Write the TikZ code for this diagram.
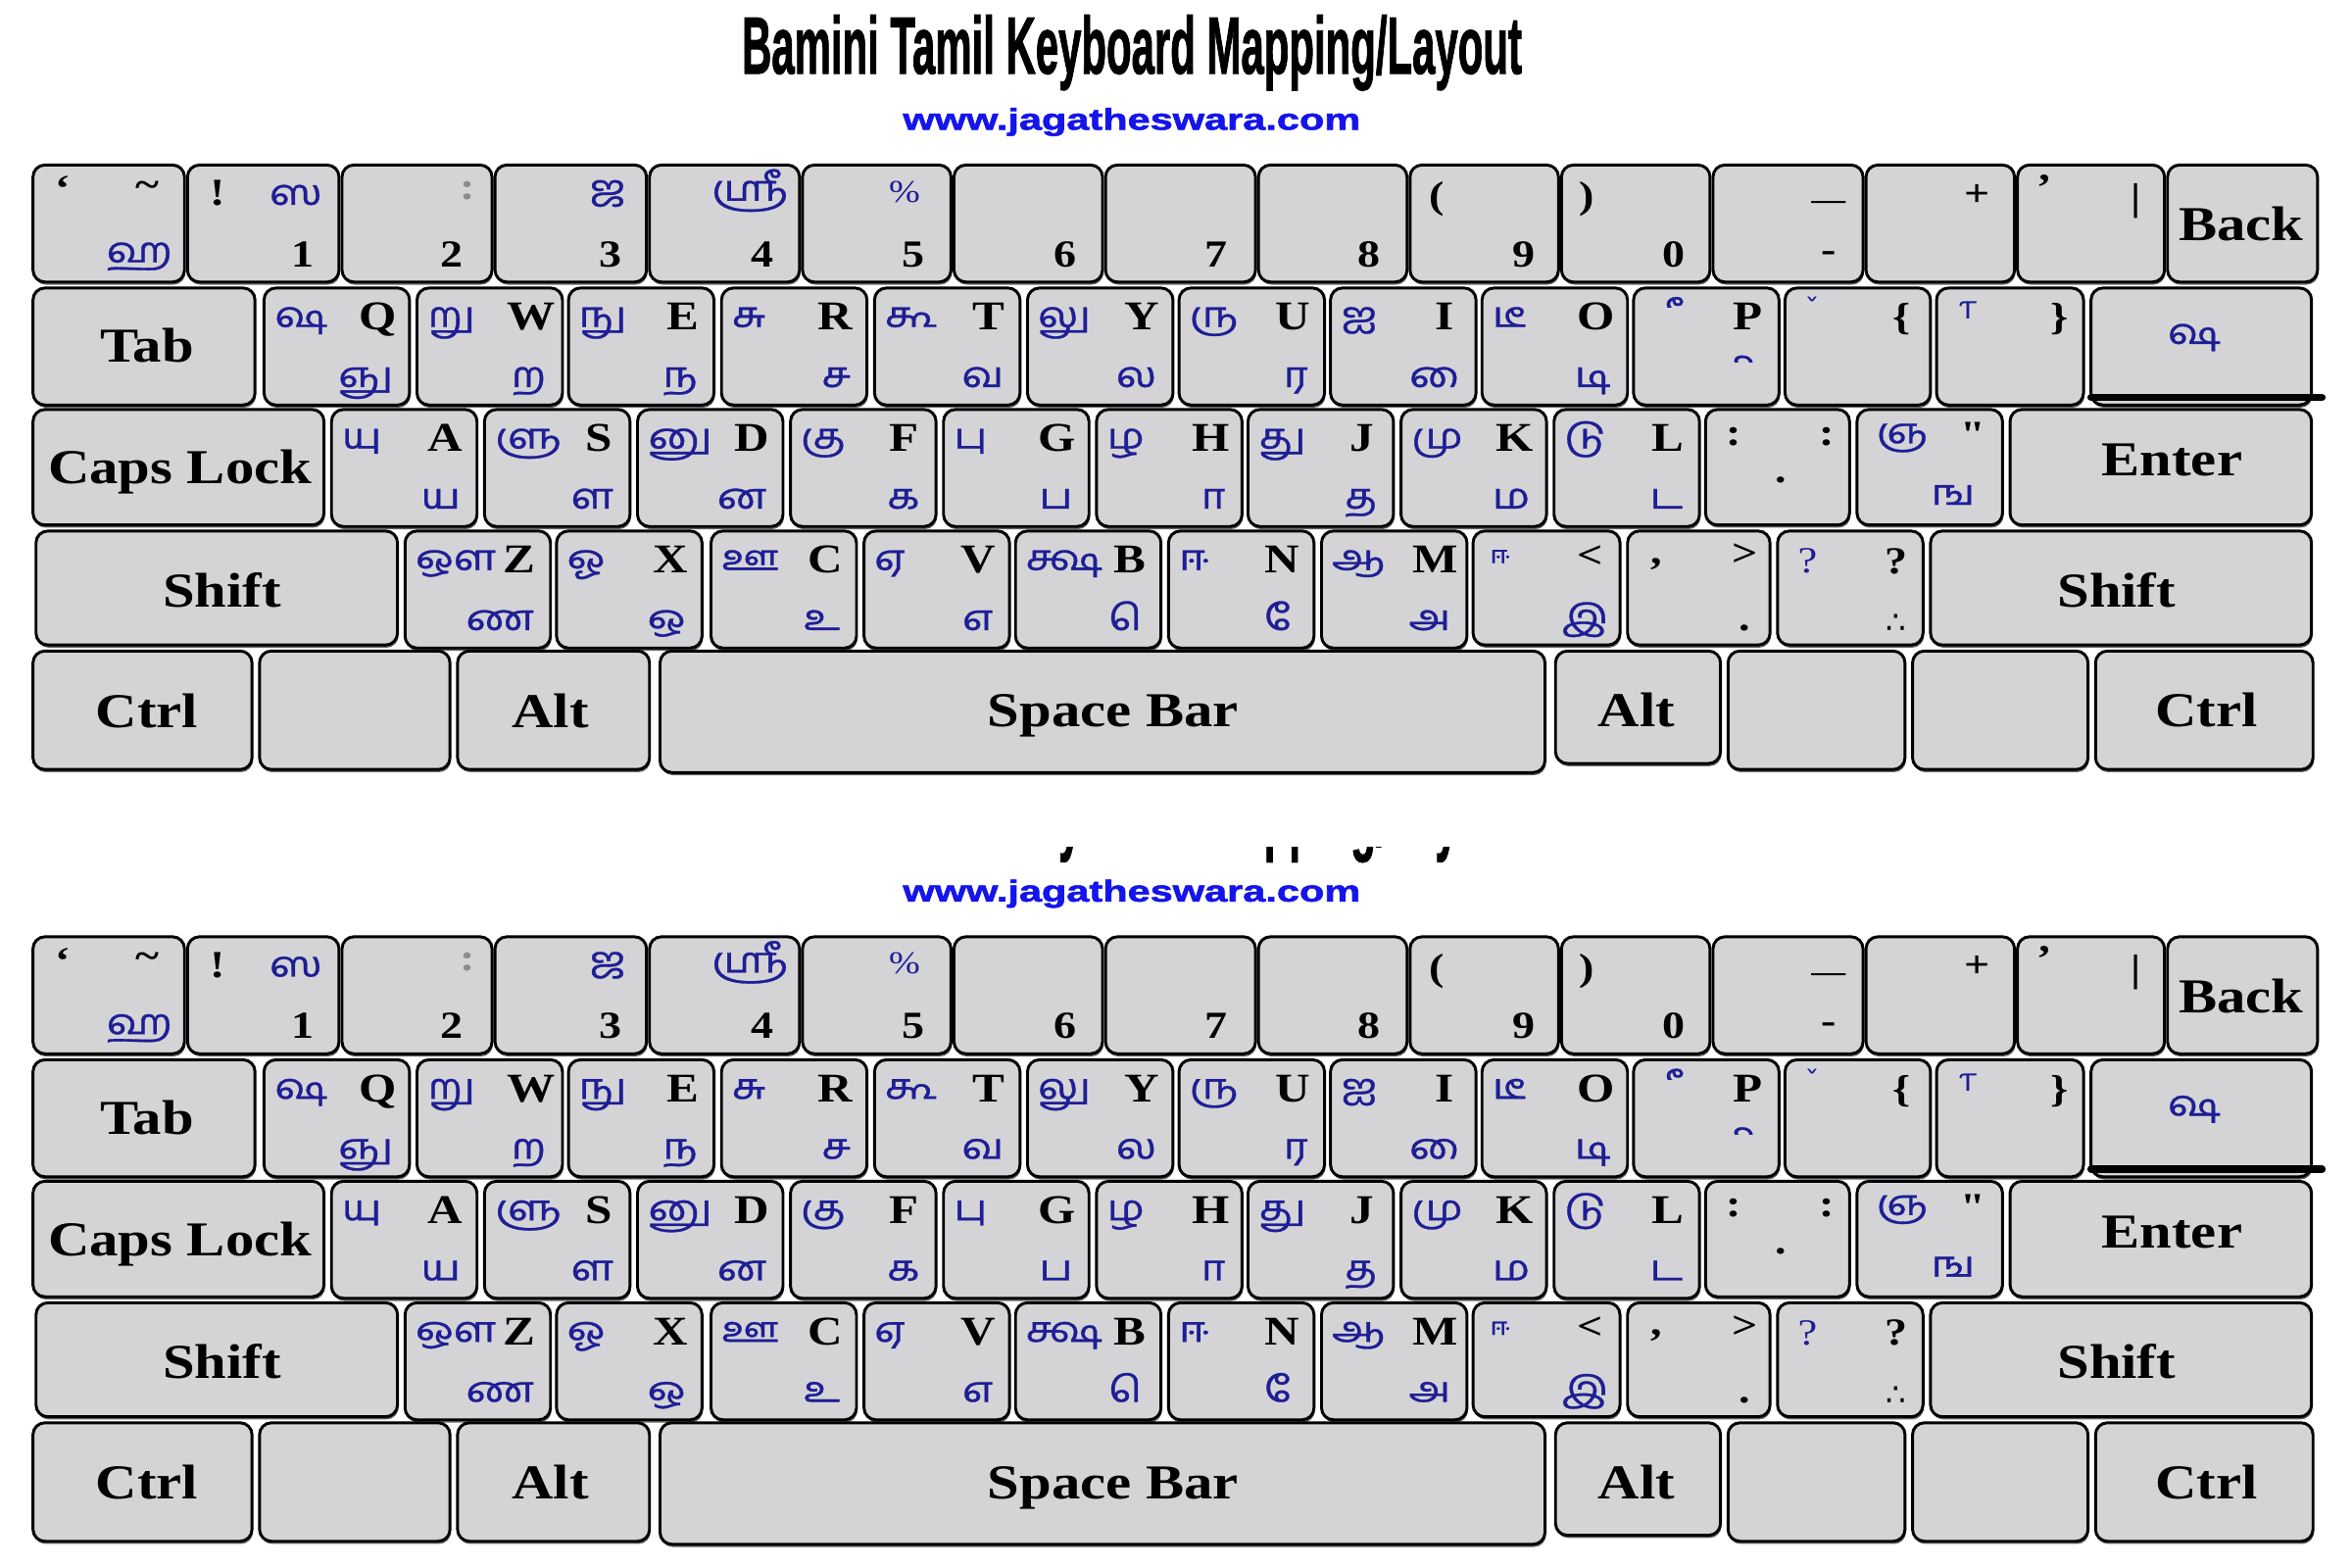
\documentclass[tikz,border=0pt]{standalone}
\usepackage{fontspec}
\usepackage{graphicx}
\setmainfont{Liberation Serif}
\newfontfamily\serifplain{Liberation Serif}
\newfontfamily\tam[Script=Tamil, FakeBold=0.8]{Hind Madurai}
\newfontfamily\sansf[BoldFeatures={FakeBold=1.6}]{Liberation Sans}
\newfontfamily\djv{DejaVu Sans}
\definecolor{keyg}{RGB}{212,212,214}
\definecolor{tblue}{RGB}{30,30,150}
\definecolor{ublue}{RGB}{20,20,235}
\newcommand\hs[1]{\scalebox{1.18}[1]{#1}}
\newlength\mwa \newlength\mwb \newlength\conh
% isolated pre-base / post-base vowel signs, cut out of a cluster
\newcommand\prem[2]{\settowidth\mwa{#2#1}\settowidth\mwb{#2}\addtolength\mwa{-\mwb}\makebox[\mwa][l]{#2#1}}
\newcommand\postm[2]{\settowidth\mwa{#2#1}\settowidth\mwb{#2}\addtolength\mwa{-\mwb}\makebox[\mwa][r]{#2#1}}
\tikzset{
  keybox/.style={fill=keyg, draw=black, line width=1.1pt, rounded corners=4.5pt},
  keyshadow/.style={fill=black!60, rounded corners=4.5pt},
  lab/.style={inner sep=0pt, outer sep=0pt},
  ltr/.style={lab, font=\fontsize{15.5}{17}\selectfont\bfseries},
  knm/.style={lab, font=\fontsize{18.5}{21}\selectfont\bfseries},
  sym/.style={lab, font=\fontsize{14.5}{16}\selectfont\bfseries},
  tml/.style={lab, text=tblue, font=\fontsize{13.5}{15}\tam},
  tsm/.style={lab, text=tblue, font=\fontsize{9}{10}\tam},
}
% glyph clipped to its own box (horizontal cut)
\newcommand\cglyph[4]{%
  \path node[tml, anchor=#3, text opacity=0] (#1) at (#2) {#4};
  \begin{scope}
    \clip ([xshift=-0.3pt,yshift=-5pt]#1.south west) rectangle ([xshift=0.3pt,yshift=5pt]#1.north east);
    \node[tml, anchor=#3] (#1-v) at (#2) {#4};
  \end{scope}}
% top part of a cluster (above-base sign), cut above the consonant
\newcommand\abovemark[4]{%
  \path node[tml, anchor=#3, text opacity=0] (#1) at (#2) {\hs{#4}};
  \begin{scope}
    \clip ([xshift=-3pt,yshift=\conh]#1.base west) rectangle ([xshift=3pt,yshift=3pt]#1.north east);
    \node[tml, anchor=#3] (#1-v) at (#2) {\hs{#4}};
  \end{scope}}
\newcommand\keyr[4]{%
  \fill[keyshadow] (#1+0.6,#2+1.8) rectangle (#3+0.6,#4+1.8);
  \draw[keybox] (#1,#2) rectangle (#3,#4);}
\newcommand\lkey[5]{%
  \keyr{#1}{#2}{#1+97}{#2+78}%
  \if\relax\detokenize{#3}\relax\else
  \node[tml, anchor=base west] (\pfx-#4-s) at (#1+7,#2+26) {\hs{#3}};\fi
  \node[ltr, anchor=base] (\pfx-#4) at (#1+76,#2+28) {\hs{#4}};
  \if\relax\detokenize{#5}\relax\else
  \node[tml, anchor=base east] (\pfx-#4-b) at (#1+86,#2+66) {\hs{#5}};\fi}
\newcommand\kbd{%
% ---------- row 1
\keyr{22}{110}{123}{188}
\node[sym] (\pfx-bq) at (42,126) {\hs{‘}};
\node[sym] (\pfx-tilde) at (98,126) {\hs{\textasciitilde}};
\node[tml] (\pfx-ha) at (93,171) {\hs{ஹ}};
\keyr{125}{110}{226}{188}
\node[sym] (\pfx-excl) at (145,129) {\hs{!}};
\node[tml] (\pfx-sa) at (197,130) {\hs{ஸ}};
\node[sym, anchor=base] (\pfx-n1) at (202,178) {\hs{1}};
\keyr{228}{110}{328}{188}
\node[sym, text=black!45] (\pfx-colon) at (312,127) {\hs{:}};
\node[sym, anchor=base] (\pfx-n2) at (301,178) {\hs{2}};
\keyr{330}{110}{431}{188}
\node[tml] (\pfx-ja) at (405,129) {\hs{ஜ}};
\node[sym, anchor=base] (\pfx-n3) at (407,178) {\hs{3}};
\keyr{433}{110}{533}{188}
\node[tml] (\pfx-sri) at (500,127) {\hs{ஸ்ரீ}};
\node[sym, anchor=base] (\pfx-n4) at (508,178) {\hs{4}};
\keyr{535}{110}{634}{188}
\node[lab, text=tblue, font=\fontsize{12}{14}\selectfont] (\pfx-pct) at (603,128) {\hs{\%}};
\node[sym, anchor=base] (\pfx-n5) at (609,178) {\hs{5}};
\keyr{636}{110}{735}{188}
\node[sym, anchor=base] (\pfx-n6) at (710,178) {\hs{6}};
\keyr{737}{110}{837}{188}
\node[sym, anchor=base] (\pfx-n7) at (811,178) {\hs{7}};
\keyr{839}{110}{938}{188}
\node[sym, anchor=base] (\pfx-n8) at (913,178) {\hs{8}};
\keyr{940}{110}{1039}{188}
\node[sym] (\pfx-lp) at (958,133) {\hs{(}};
\node[sym, anchor=base] (\pfx-n9) at (1016,178) {\hs{9}};
\keyr{1041}{110}{1140}{188}
\node[sym] (\pfx-rp) at (1058,133) {\hs{)}};
\node[sym, anchor=base] (\pfx-n0) at (1116,178) {\hs{0}};
\keyr{1142}{110}{1242}{188}
\node[lab, font=\fontsize{11}{12}\selectfont\bfseries] (\pfx-us) at (1219,137) {\hs{—}};
\node[sym] (\pfx-hy) at (1219,171) {\hs{-}};
\keyr{1244}{110}{1343}{188}
\node[sym] (\pfx-plus) at (1318,130) {\hs{+}};
\keyr{1345}{110}{1443}{188}
\node[sym] (\pfx-apos) at (1363,125) {\hs{’}};
\node[sym] (\pfx-bar) at (1424,134) {\hs{|}};
\keyr{1445}{110}{1545}{188}
\node[knm, anchor=base] (\pfx-back) at (1494,160.5) {\hs{Back}};
% ---------- row 2
\keyr{22}{192}{170}{270}
\node[knm, anchor=base] (\pfx-tab) at (98,241.5) {\hs{Tab}};
\lkey{176}{192}{ஷ}{Q}{ஞு}
\lkey{278}{192}{று}{W}{ற}
\lkey{379}{192}{நு}{E}{ந}
\lkey{481}{192}{சு}{R}{ச}
\lkey{583}{192}{கூ}{T}{வ}
\lkey{685}{192}{லு}{Y}{ல}
\lkey{786}{192}{ரு}{U}{ர}
\lkey{887}{192}{ஐ}{I}{}
\cglyph{\pfx-I-b}{887+86,192+66}{base east}{\hs{\prem{ை}{க}}}
\lkey{988}{192}{டீ}{O}{டி}
\lkey{1089}{192}{}{P}{}
\abovemark{\pfx-P-s}{1089+32,192+6}{north east}{பீ}
\abovemark{\pfx-P-b}{1089+82,192+45}{north east}{பி}
\keyr{1190}{192}{1287}{270}
\node[lab, text=tblue, font=\fontsize{10}{12}\djv] (\pfx-lbs) at (1208,205) {\hs{ˇ}};
\node[sym] (\pfx-lb) at (1268,213) {\hs{\{}};
\keyr{1291}{192}{1389}{270}
\node[lab, text=tblue, font=\fontsize{9}{12}\djv] (\pfx-rbs) at (1312,207) {\hs{Ƭ}};
\node[sym] (\pfx-rb) at (1373,213) {\hs{\}}};
\keyr{1394}{192}{1541}{270}
\node[tml] (\pfx-ssa) at (1463,225) {\hs{ஷ}};
\draw[line width=2.8pt, line cap=round] (1394,265) -- (1548,265);
% ---------- row 3
\keyr{22}{273}{216}{350}
\node[knm, anchor=base] (\pfx-caps) at (120,322.5) {\hs{Caps Lock}};
\lkey{221}{273}{யு}{A}{ய}
\lkey{323}{273}{ளு}{S}{ள}
\lkey{425}{273}{னு}{D}{ன}
\lkey{527}{273}{கு}{F}{க}
\lkey{629}{273}{பு}{G}{ப}
\lkey{731}{273}{ழ}{H}{}
\cglyph{\pfx-H-b}{731+86,273+66}{base east}{\hs{\postm{ா}{க}}}
\lkey{832}{273}{து}{J}{த}
\lkey{934}{273}{மு}{K}{ம}
\lkey{1036}{273}{டு}{L}{ட}
\keyr{1137}{273}{1233}{350}
\node[sym] (\pfx-sc1) at (1156,291) {\hs{:}};
\node[sym] (\pfx-sc2) at (1218,291) {\hs{:}};
\node[sym] (\pfx-sc3) at (1187,320) {\hs{.}};
\keyr{1238}{273}{1335}{350}
\node[tml] (\pfx-nya) at (1268,292) {\hs{ஞ}};
\node[lab, font=\fontsize{14.5}{16}\serifplain\bfseries] (\pfx-dq) at (1315,290) {\hs{"}};
\node[tml] (\pfx-nga) at (1302,330) {\hs{ங}};
\keyr{1340}{273}{1541}{350}
\node[knm, anchor=base] (\pfx-enter) at (1448,317.5) {\hs{Enter}};
% ---------- row 4
\keyr{24}{354}{265}{430}
\node[knm, anchor=base] (\pfx-lshift) at (148,404.5) {\hs{Shift}};
\lkey{270}{354}{ஔ}{Z}{ண}
\lkey{371}{354}{ஓ}{X}{ஒ}
\lkey{474}{354}{ஊ}{C}{உ}
\lkey{576}{354}{ஏ}{V}{எ}
\lkey{677}{354}{க்ஷ}{B}{}
\cglyph{\pfx-B-b}{677+84,354+66}{base east}{\hs{\prem{ெ}{க}}}
\lkey{779}{354}{ஈ}{N}{}
\cglyph{\pfx-N-b}{779+82,354+66}{base east}{\hs{\prem{ே}{க}}}
\lkey{881}{354}{ஆ}{M}{அ}
\keyr{982}{354}{1080}{430}
\node[tsm] (\pfx-lts) at (1000,371) {\hs{ஈ}};
\node[sym] (\pfx-lt) at (1060,371) {\hs{<}};
\node[tml, anchor=base east] (\pfx-ii) at (1072,420) {\hs{இ}};
\keyr{1085}{354}{1180}{430}
\node[sym] (\pfx-cm) at (1104,376) {\hs{,}};
\node[sym] (\pfx-gt) at (1163,370) {\hs{>}};
\node[sym] (\pfx-dot) at (1163,419) {\hs{.}};
\keyr{1185}{354}{1282}{430}
\node[lab, text=tblue, font=\fontsize{14}{16}\selectfont] (\pfx-qa) at (1205,374) {\hs{?}};
\node[sym] (\pfx-qb) at (1264,374) {\hs{?}};
\node[lab, font=\fontsize{12}{14}\djv] (\pfx-there) at (1264,416) {∴};
\keyr{1287}{354}{1541}{430}
\node[knm, anchor=base] (\pfx-rshift) at (1411,404.5) {\hs{Shift}};
% ---------- row 5
\keyr{22}{434}{168}{513}
\node[knm, anchor=base] (\pfx-lctrl) at (98,485) {\hs{Ctrl}};
\keyr{173}{434}{300}{513}
\keyr{305}{434}{433}{513}
\node[knm, anchor=base] (\pfx-lalt) at (367,485) {\hs{Alt}};
\keyr{440}{434}{1030}{515}
\node[knm, anchor=base] (\pfx-space) at (742,484.5) {\hs{Space Bar}};
\keyr{1037}{434}{1147}{509}
\node[knm, anchor=base] (\pfx-ralt) at (1091,484.5) {\hs{Alt}};
\keyr{1152}{434}{1270}{513}
\keyr{1275}{434}{1392}{513}
\keyr{1397}{434}{1542}{513}
\node[knm, anchor=base] (\pfx-rctrl) at (1471,484.5) {\hs{Ctrl}};
}
\begin{document}
\settoheight\conh{\fontsize{13.5}{15}\tam ப}\addtolength\conh{0.6pt}%
\begin{tikzpicture}[x=0.02cm, y=-0.02cm]
\useasboundingbox (0,0) rectangle (1568,1045);
\fill[white] (0,0) rectangle (1568,1045);
% title and url
\node[lab, anchor=base] (title) at (754.6,49) {\resizebox{10.4cm}{0.78cm}{\sansf\bfseries Bamini Tamil Keyboard Mapping/Layout}};
\node[lab, anchor=base] (url1) at (754.5,86.5) {\resizebox{6.1cm}{0.29cm}{\sansf\bfseries\color{ublue}www.jagatheswara.com}};
\def\pfx{a}\kbd
\begin{scope}
  \clip (300,565) rectangle (1200,590);
  \node[lab, anchor=base] (title2) at (754.6,563.5) {\resizebox{10.4cm}{0.78cm}{\sansf\bfseries Bamini Tamil Keyboard Mapping/Layout}};
\end{scope}
\node[lab, anchor=base] (url2) at (754.5,601) {\resizebox{6.1cm}{0.29cm}{\sansf\bfseries\color{ublue}www.jagatheswara.com}};
\begin{scope}[shift={(0,514.5)}]
\def\pfx{b}\kbd
\end{scope}
\end{tikzpicture}
\end{document}
